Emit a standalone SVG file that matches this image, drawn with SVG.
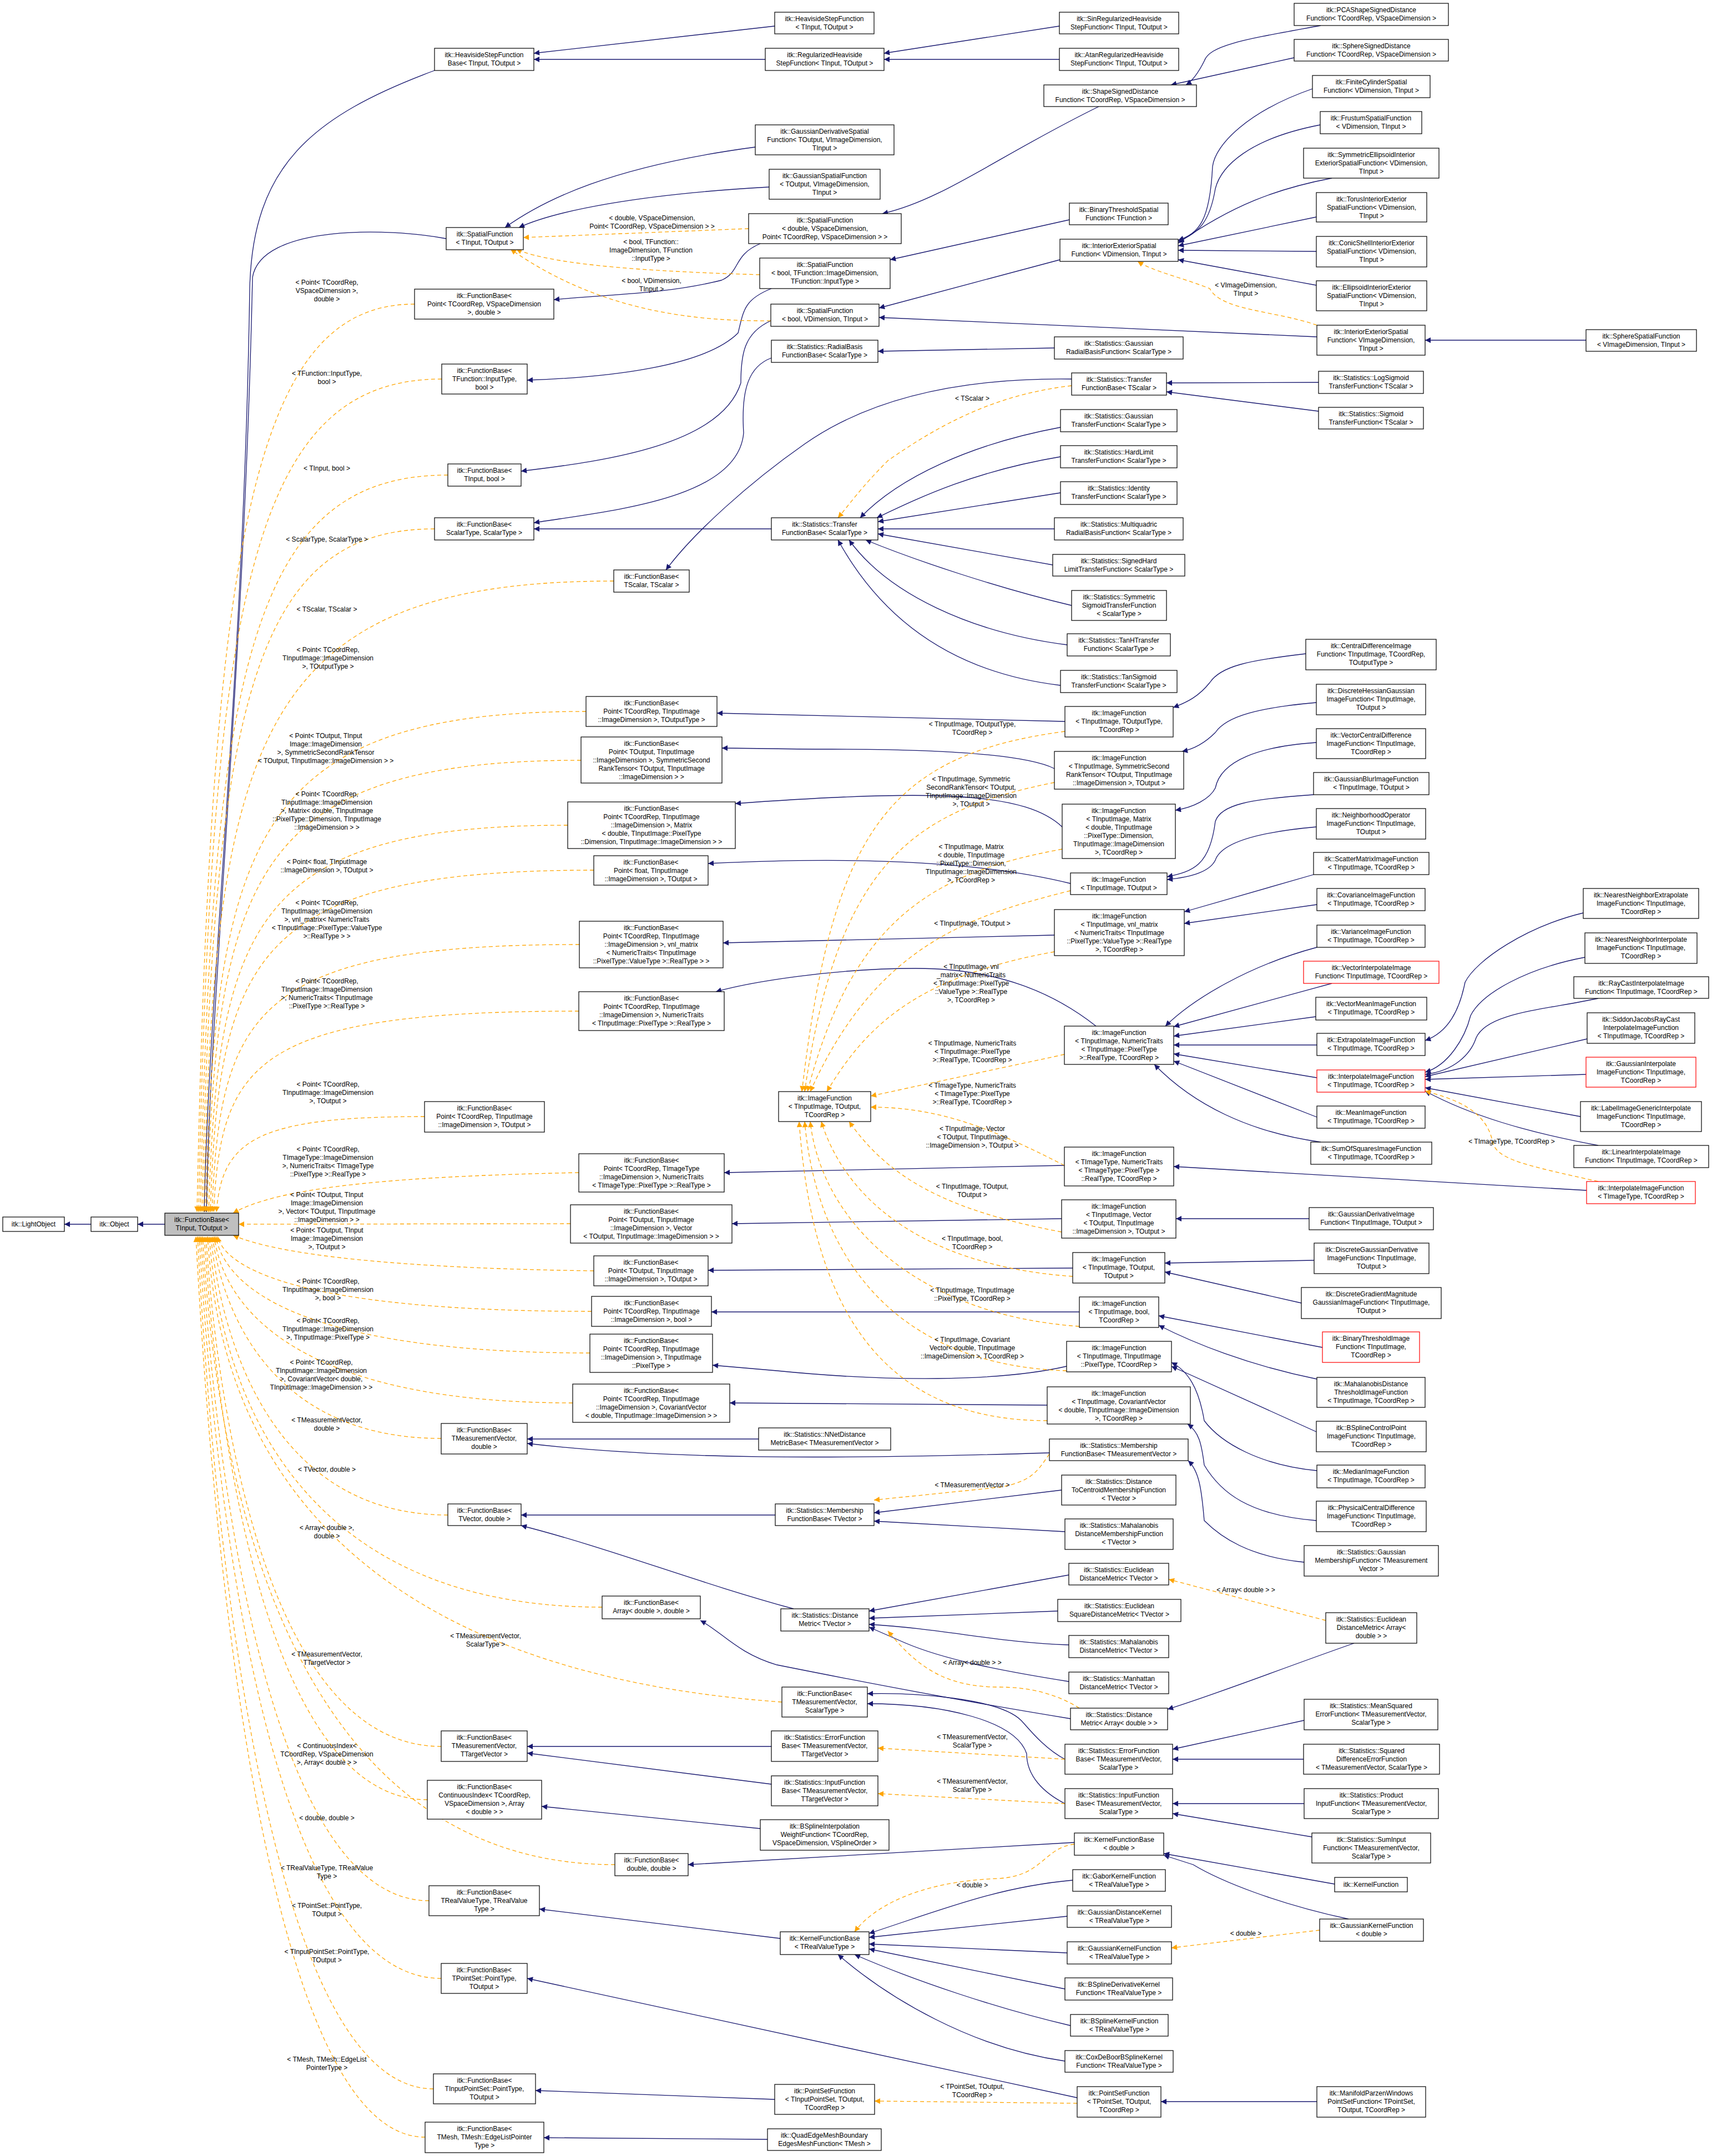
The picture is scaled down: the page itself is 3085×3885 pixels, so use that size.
<svg xmlns="http://www.w3.org/2000/svg" width="3085" height="3885" viewBox="0 0 3085 3885">
<style>
.n rect{fill:#fff;stroke:#000;stroke-width:1.2}
.r rect{stroke:#f00}
.g rect{fill:#bfbfbf}
text{font-family:"Liberation Sans",Arial,sans-serif;font-size:12px;fill:#000;text-anchor:middle}
.e{fill:none;stroke:#191970;stroke-width:1.3;marker-end:url(#ab)}
.d{fill:none;stroke:#ffa500;stroke-width:1.3;stroke-dasharray:7,5;marker-end:url(#ao)}
</style>
<defs>
<marker id="ab" viewBox="0 0 10 10" refX="10" refY="5" markerWidth="14" markerHeight="10" markerUnits="userSpaceOnUse" orient="auto"><path d="M0,0 L10,5 L0,10 z" fill="#191970"/></marker>
<marker id="ao" viewBox="0 0 10 10" refX="10" refY="5" markerWidth="14" markerHeight="10" markerUnits="userSpaceOnUse" orient="auto"><path d="M0,0 L10,5 L0,10 z" fill="#ffa500"/></marker>
</defs>
<rect width="3085" height="3885" fill="#fff"/>
<g id="connectors">
<path class="e" d="M164,2206 L116,2206"/>
<path class="e" d="M297,2206 L248,2206"/>
<path class="e" d="M783,127 C560,210 455,300 450,520 C440,1200 375,1800 368,2184"/>
<path class="e" d="M804,430 C700,410 470,405 455,500 C440,1200 378,1800 372,2184"/>
<path class="e" d="M1396,47 L962,96"/>
<path class="e" d="M1379,107 L962,107"/>
<path class="e" d="M1909,47 L1593,96"/>
<path class="e" d="M1909,107 L1593,107"/>
<path class="e" d="M2380,46 C2250,70 2180,80 2170,110 C2160,130 2150,145 2137,153"/>
<path class="e" d="M2332,104 L2110,153"/>
<path class="e" d="M1980,192 C1800,280 1700,360 1590,385"/>
<path class="e" d="M1361,265 C1100,300 980,360 910,410"/>
<path class="e" d="M1386,337 C1150,350 1000,380 935,410"/>
<path class="e" d="M1370,439 C1320,460 1335,490 1300,505 C1200,530 1100,530 998,540"/>
<path class="e" d="M1390,520 C1340,540 1340,560 1330,600 C1270,660 1100,680 950,685"/>
<path class="e" d="M1389,578 C1340,600 1335,640 1335,690 C1300,800 1100,830 939,849"/>
<path class="e" d="M1390,645 C1350,660 1335,700 1340,780 C1330,900 1100,920 962,942"/>
<path class="e" d="M1390,953 L962,953"/>
<path class="e" d="M1931,683 C1700,680 1550,730 1450,800 C1350,870 1250,960 1200,1027"/>
<path class="e" d="M1927,396 L1604,468"/>
<path class="e" d="M1910,468 L1584,555"/>
<path class="e" d="M2365,160 C2250,200 2190,260 2185,300 C2180,400 2160,420 2123,433"/>
<path class="e" d="M2379,225 C2250,250 2200,300 2190,340 C2180,400 2160,420 2123,435"/>
<path class="e" d="M2400,321 C2300,340 2220,370 2123,438"/>
<path class="e" d="M2372,391 L2123,443"/>
<path class="e" d="M2372,453 L2123,451"/>
<path class="e" d="M2372,514 L2123,468"/>
<path class="e" d="M2373,607 L1584,572"/>
<path class="e" d="M2858,613 L2568,613"/>
<path class="e" d="M1900,627 L1582,633"/>
<path class="e" d="M2376,689 L2102,690"/>
<path class="e" d="M2376,741 L2102,706"/>
<path class="e" d="M1911,770 C1750,800 1620,860 1550,933"/>
<path class="e" d="M1911,823 C1750,850 1650,900 1580,933"/>
<path class="e" d="M1911,888 L1582,940"/>
<path class="e" d="M1900,953 L1582,953"/>
<path class="e" d="M1897,1018 L1582,962"/>
<path class="e" d="M1931,1091 C1800,1060 1650,1010 1560,973"/>
<path class="e" d="M1923,1162 C1750,1140 1600,1070 1530,973"/>
<path class="e" d="M1911,1235 C1700,1210 1580,1100 1510,973"/>
<path class="e" d="M1919,1300 L1292,1285"/>
<path class="e" d="M2353,1178 C2250,1190 2200,1200 2180,1230 C2160,1255 2140,1265 2114,1275"/>
<path class="e" d="M2372,1266 C2270,1275 2210,1290 2190,1320 C2170,1340 2150,1350 2130,1354"/>
<path class="e" d="M1900,1385 C1850,1360 1700,1350 1500,1350 C1400,1350 1350,1348 1301,1348"/>
<path class="e" d="M2372,1338 C2270,1345 2200,1370 2190,1420 C2180,1440 2150,1455 2118,1460"/>
<path class="e" d="M1914,1490 C1850,1430 1700,1420 1325,1448"/>
<path class="e" d="M2367,1432 C2250,1440 2200,1450 2190,1480 C2180,1560 2150,1570 2103,1580"/>
<path class="e" d="M2372,1490 C2260,1500 2200,1520 2190,1550 C2180,1570 2150,1580 2103,1585"/>
<path class="e" d="M1929,1592 C1800,1560 1600,1540 1276,1556"/>
<path class="e" d="M2367,1576 L2134,1643"/>
<path class="e" d="M2373,1630 L2134,1664"/>
<path class="e" d="M1900,1685 L1303,1699"/>
<path class="e" d="M1975,1849 C1900,1790 1800,1745 1650,1745 C1500,1745 1350,1770 1290,1787"/>
<path class="e" d="M2373,1707 C2250,1740 2150,1800 2100,1849"/>
<path class="e" d="M2400,1772 L2115,1850"/>
<path class="e" d="M2371,1832 L2115,1867"/>
<path class="e" d="M2373,1883 L2115,1883"/>
<path class="e" d="M2373,1942 L2115,1899"/>
<path class="e" d="M2373,2013 L2115,1912"/>
<path class="e" d="M2380,2058 C2250,2040 2150,1990 2080,1918"/>
<path class="e" d="M2853,1645 C2750,1670 2660,1730 2640,1770 C2630,1820 2610,1860 2568,1875"/>
<path class="e" d="M2856,1725 C2750,1745 2670,1790 2650,1830 C2640,1870 2610,1920 2568,1932"/>
<path class="e" d="M2880,1799 C2780,1820 2680,1825 2660,1870 C2650,1900 2620,1930 2568,1936"/>
<path class="e" d="M2860,1872 L2568,1940"/>
<path class="e" d="M2858,1936 L2568,1945"/>
<path class="e" d="M2848,2012 L2568,1960"/>
<path class="e" d="M2880,2064 C2750,2040 2650,2010 2568,1966"/>
<path class="e" d="M2859,2145 L2115,2102"/>
<path class="e" d="M1918,2100 L1305,2113"/>
<path class="e" d="M2359,2196 L2119,2196"/>
<path class="e" d="M1913,2196 L1319,2205"/>
<path class="e" d="M2368,2271 L2099,2276"/>
<path class="e" d="M2345,2348 L2099,2292"/>
<path class="e" d="M1933,2285 L1276,2289"/>
<path class="e" d="M2383,2428 L2088,2371"/>
<path class="e" d="M2373,2485 C2250,2460 2150,2420 2088,2388"/>
<path class="e" d="M1945,2364 L1282,2364"/>
<path class="e" d="M2372,2580 L2111,2462"/>
<path class="e" d="M2373,2650 C2270,2640 2200,2600 2170,2560 C2160,2500 2140,2470 2111,2455"/>
<path class="e" d="M1922,2462 C1800,2490 1600,2490 1400,2470 L1284,2460"/>
<path class="e" d="M2372,2740 C2250,2730 2200,2690 2170,2640 C2165,2600 2160,2580 2140,2566"/>
<path class="e" d="M1887,2532 L1315,2528"/>
<path class="e" d="M1891,2618 C1500,2630 1200,2630 950,2601"/>
<path class="e" d="M1367,2593 L950,2593"/>
<path class="e" d="M2350,2815 C2250,2805 2200,2770 2170,2740 C2165,2680 2160,2650 2141,2632"/>
<path class="e" d="M1913,2685 L1575,2726"/>
<path class="e" d="M1919,2760 L1575,2741"/>
<path class="e" d="M1397,2730 L939,2730"/>
<path class="e" d="M1430,2899 C1250,2850 1100,2790 939,2749"/>
<path class="e" d="M1926,2838 L1566,2903"/>
<path class="e" d="M1906,2903 L1566,2916"/>
<path class="e" d="M1926,2964 C1800,2960 1700,2935 1566,2927"/>
<path class="e" d="M1926,3030 C1800,3010 1700,2990 1630,2960 L1566,2932"/>
<path class="e" d="M1929,3097 C1700,3060 1500,3020 1400,3000 C1330,2980 1300,2940 1262,2920"/>
<path class="e" d="M2440,2961 C2300,3010 2200,3050 2104,3080"/>
<path class="e" d="M1919,3170 C1880,3150 1850,3110 1840,3100 C1800,3060 1650,3050 1563,3052"/>
<path class="e" d="M1919,3250 C1880,3230 1850,3200 1850,3160 C1830,3100 1700,3070 1563,3070"/>
<path class="e" d="M2350,3100 L2113,3152"/>
<path class="e" d="M2349,3170 L2113,3170"/>
<path class="e" d="M2350,3250 L2113,3250"/>
<path class="e" d="M2364,3310 L2113,3268"/>
<path class="e" d="M1390,3147 L950,3147"/>
<path class="e" d="M1390,3215 L950,3159"/>
<path class="e" d="M1370,3295 L976,3255"/>
<path class="e" d="M1936,3320 L1240,3360"/>
<path class="e" d="M2405,3395 L2097,3340"/>
<path class="e" d="M2430,3458 C2300,3430 2200,3390 2150,3360 L2097,3343"/>
<path class="e" d="M1933,3388 C1800,3400 1700,3440 1566,3484"/>
<path class="e" d="M1923,3453 L1566,3491"/>
<path class="e" d="M1923,3519 L1566,3503"/>
<path class="e" d="M1919,3584 L1566,3512"/>
<path class="e" d="M1929,3650 C1800,3620 1650,3570 1540,3522"/>
<path class="e" d="M1919,3714 C1750,3690 1600,3600 1510,3522"/>
<path class="e" d="M1406,3493 L972,3440"/>
<path class="e" d="M1941,3780 L950,3565"/>
<path class="e" d="M2373,3787 L2092,3787"/>
<path class="e" d="M1396,3783 L965,3767"/>
<path class="e" d="M1383,3855 L980,3852"/>
<path class="d" d="M1349,412 L943,428"/>
<path class="d" d="M1369,495 C1200,490 1000,480 930,449"/>
<path class="d" d="M1389,578 C1200,580 1050,540 920,449"/>
<path class="d" d="M2373,586 C2300,560 2200,560 2180,520 C2130,500 2080,490 2050,471"/>
<path class="d" d="M1931,695 C1800,710 1700,760 1600,830 C1550,880 1530,910 1510,933"/>
<path class="d" d="M2880,2129 C2750,2100 2700,2090 2690,2060 C2680,2000 2620,1980 2568,1966"/>
<path class="d" d="M2389,2920 L2106,2846"/>
<path class="d" d="M2378,3478 L2111,3510"/>
<path class="d" d="M1891,2620 C1870,2650 1860,2670 1800,2680 L1575,2703"/>
<path class="d" d="M1945,3078 C1900,3050 1850,3040 1800,3040 C1700,3040 1650,3000 1600,2939"/>
<path class="d" d="M1919,3170 L1582,3150"/>
<path class="d" d="M1919,3250 L1582,3232"/>
<path class="d" d="M1936,3323 C1880,3330 1880,3380 1800,3385 C1650,3390 1570,3440 1540,3481"/>
<path class="d" d="M1941,3790 L1576,3786"/>
<path class="d" d="M1919,1318 C1600,1360 1500,1500 1445,1967"/>
<path class="d" d="M1900,1410 C1650,1460 1510,1550 1450,1967"/>
<path class="d" d="M1914,1530 C1700,1570 1540,1640 1455,1967"/>
<path class="d" d="M1929,1605 C1750,1650 1580,1700 1460,1967"/>
<path class="d" d="M1900,1715 C1650,1760 1560,1850 1490,1967"/>
<path class="d" d="M1918,1900 L1569,1975"/>
<path class="d" d="M1918,2100 C1800,2040 1700,1995 1569,1995"/>
<path class="d" d="M1913,2220 C1700,2180 1600,2120 1530,2021"/>
<path class="d" d="M1933,2300 C1650,2280 1520,2150 1480,2021"/>
<path class="d" d="M1945,2390 C1650,2370 1480,2200 1460,2021"/>
<path class="d" d="M1922,2470 C1600,2460 1470,2250 1450,2021"/>
<path class="d" d="M1887,2560 C1550,2560 1460,2300 1440,2021"/>
<path class="d" d="M747,548 C460,548 380,958 355,2184"/>
<path class="d" d="M796,683 C460,683 380,1059 358,2184"/>
<path class="d" d="M807,856 C460,856 382,1188 361,2184"/>
<path class="d" d="M783,953 C460,953 384,1261 364,2184"/>
<path class="d" d="M1106,1047 C460,1047 386,1332 367,2184"/>
<path class="d" d="M1056,1282 C460,1282 388,1508 370,2184"/>
<path class="d" d="M1047,1370 C460,1370 390,1574 373,2184"/>
<path class="d" d="M1023,1487 C460,1487 392,1662 376,2184"/>
<path class="d" d="M1070,1568 C460,1568 394,1722 379,2184"/>
<path class="d" d="M1044,1702 C460,1702 396,1823 382,2184"/>
<path class="d" d="M1043,1822 C460,1822 398,1913 385,2184"/>
<path class="d" d="M765,2012 C460,2012 400,2055 390,2184"/>
<path class="d" d="M1043,2113 C700,2120 500,2140 420,2186"/>
<path class="d" d="M1028,2205 L430,2206"/>
<path class="d" d="M1070,2290 C700,2285 500,2260 420,2226"/>
<path class="d" d="M1066,2363 C460,2363 400,2260 392,2228"/>
<path class="d" d="M1063,2438 C460,2438 398,2279 389,2228"/>
<path class="d" d="M1032,2528 C460,2528 396,2302 386,2228"/>
<path class="d" d="M795,2592 C460,2592 394,2318 383,2228"/>
<path class="d" d="M807,2730 C460,2730 392,2352 380,2228"/>
<path class="d" d="M1085,2896 C460,2896 390,2393 377,2228"/>
<path class="d" d="M1409,3067 C460,3000 388,2436 374,2228"/>
<path class="d" d="M795,3147 C460,3147 386,2458 371,2228"/>
<path class="d" d="M770,3243 C460,3243 384,2480 368,2228"/>
<path class="d" d="M1108,3360 C460,3360 382,2510 365,2228"/>
<path class="d" d="M773,3425 C460,3425 380,2526 362,2228"/>
<path class="d" d="M795,3565 C460,3565 378,2561 359,2228"/>
<path class="d" d="M781,3764 C460,3764 376,2611 356,2228"/>
<path class="d" d="M766,3851 C460,3851 374,2632 353,2228"/>
</g>
<g id="labels">
<text x="589" y="513">&lt; Point&lt; TCoordRep,<tspan x="589" dy="14.9">VSpaceDimension &gt;,</tspan><tspan x="589" dy="14.9">double &gt;</tspan></text>
<text x="589" y="677">&lt; TFunction::InputType,<tspan x="589" dy="14.9">bool &gt;</tspan></text>
<text x="589" y="848">&lt; TInput, bool &gt;</text>
<text x="589" y="976">&lt; ScalarType, ScalarType &gt;</text>
<text x="589" y="1102">&lt; TScalar, TScalar &gt;</text>
<text x="591" y="1175">&lt; Point&lt; TCoordRep,<tspan x="591" dy="14.9">TInputImage::ImageDimension</tspan><tspan x="591" dy="14.9">&gt;, TOutputType &gt;</tspan></text>
<text x="587" y="1330">&lt; Point&lt; TOutput, TInput<tspan x="587" dy="14.9">Image::ImageDimension</tspan><tspan x="587" dy="14.9">&gt;, SymmetricSecondRankTensor</tspan><tspan x="587" dy="14.9">&lt; TOutput, TInputImage::ImageDimension &gt; &gt;</tspan></text>
<text x="589" y="1435">&lt; Point&lt; TCoordRep,<tspan x="589" dy="14.9">TInputImage::ImageDimension</tspan><tspan x="589" dy="14.9">&gt;, Matrix&lt; double, TInputImage</tspan><tspan x="589" dy="14.9">::PixelType::Dimension, TInputImage</tspan><tspan x="589" dy="14.9">::ImageDimension &gt; &gt;</tspan></text>
<text x="589" y="1557">&lt; Point&lt; float, TInputImage<tspan x="589" dy="14.9">::ImageDimension &gt;, TOutput &gt;</tspan></text>
<text x="589" y="1631">&lt; Point&lt; TCoordRep,<tspan x="589" dy="14.9">TInputImage::ImageDimension</tspan><tspan x="589" dy="14.9">&gt;, vnl_matrix&lt; NumericTraits</tspan><tspan x="589" dy="14.9">&lt; TInputImage::PixelType::ValueType</tspan><tspan x="589" dy="14.9">&gt;::RealType &gt; &gt;</tspan></text>
<text x="589" y="1772">&lt; Point&lt; TCoordRep,<tspan x="589" dy="14.9">TInputImage::ImageDimension</tspan><tspan x="589" dy="14.9">&gt;, NumericTraits&lt; TInputImage</tspan><tspan x="589" dy="14.9">::PixelType &gt;::RealType &gt;</tspan></text>
<text x="591" y="1958">&lt; Point&lt; TCoordRep,<tspan x="591" dy="14.9">TInputImage::ImageDimension</tspan><tspan x="591" dy="14.9">&gt;, TOutput &gt;</tspan></text>
<text x="591" y="2075">&lt; Point&lt; TCoordRep,<tspan x="591" dy="14.9">TImageType::ImageDimension</tspan><tspan x="591" dy="14.9">&gt;, NumericTraits&lt; TImageType</tspan><tspan x="591" dy="14.9">::PixelType &gt;::RealType &gt;</tspan></text>
<text x="589" y="2157">&lt; Point&lt; TOutput, TInput<tspan x="589" dy="14.9">Image::ImageDimension</tspan><tspan x="589" dy="14.9">&gt;, Vector&lt; TOutput, TInputImage</tspan><tspan x="589" dy="14.9">::ImageDimension &gt; &gt;</tspan></text>
<text x="589" y="2221">&lt; Point&lt; TOutput, TInput<tspan x="589" dy="14.9">Image::ImageDimension</tspan><tspan x="589" dy="14.9">&gt;, TOutput &gt;</tspan></text>
<text x="591" y="2313">&lt; Point&lt; TCoordRep,<tspan x="591" dy="14.9">TInputImage::ImageDimension</tspan><tspan x="591" dy="14.9">&gt;, bool &gt;</tspan></text>
<text x="591" y="2384">&lt; Point&lt; TCoordRep,<tspan x="591" dy="14.9">TInputImage::ImageDimension</tspan><tspan x="591" dy="14.9">&gt;, TInputImage::PixelType &gt;</tspan></text>
<text x="579" y="2459">&lt; Point&lt; TCoordRep,<tspan x="579" dy="14.9">TInputImage::ImageDimension</tspan><tspan x="579" dy="14.9">&gt;, CovariantVector&lt; double,</tspan><tspan x="579" dy="14.9">TInputImage::ImageDimension &gt; &gt;</tspan></text>
<text x="589" y="2563">&lt; TMeasurementVector,<tspan x="589" dy="14.9">double &gt;</tspan></text>
<text x="589" y="2652">&lt; TVector, double &gt;</text>
<text x="589" y="2757">&lt; Array&lt; double &gt;,<tspan x="589" dy="14.9">double &gt;</tspan></text>
<text x="875" y="2952">&lt; TMeasurementVector,<tspan x="875" dy="14.9">ScalarType &gt;</tspan></text>
<text x="589" y="2985">&lt; TMeasurementVector,<tspan x="589" dy="14.9">TTargetVector &gt;</tspan></text>
<text x="589" y="3150">&lt; ContinuousIndex&lt;<tspan x="589" dy="14.9">TCoordRep, VSpaceDimension</tspan><tspan x="589" dy="14.9">&gt;, Array&lt; double &gt; &gt;</tspan></text>
<text x="589" y="3280">&lt; double, double &gt;</text>
<text x="589" y="3370">&lt; TRealValueType, TRealValue<tspan x="589" dy="14.9">Type &gt;</tspan></text>
<text x="589" y="3438">&lt; TPointSet::PointType,<tspan x="589" dy="14.9">TOutput &gt;</tspan></text>
<text x="589" y="3521">&lt; TInputPointSet::PointType,<tspan x="589" dy="14.9">TOutput &gt;</tspan></text>
<text x="589" y="3715">&lt; TMesh, TMesh::EdgeList<tspan x="589" dy="14.9">PointerType &gt;</tspan></text>
<text x="1175" y="397">&lt; double, VSpaceDimension,<tspan x="1175" dy="14.9">Point&lt; TCoordRep, VSpaceDimension &gt; &gt;</tspan></text>
<text x="1173" y="440">&lt; bool, TFunction::<tspan x="1173" dy="14.9">ImageDimension, TFunction</tspan><tspan x="1173" dy="14.9">::InputType &gt;</tspan></text>
<text x="1174" y="510">&lt; bool, VDimension,<tspan x="1174" dy="14.9">TInput &gt;</tspan></text>
<text x="2245" y="518">&lt; VImageDimension,<tspan x="2245" dy="14.9">TInput &gt;</tspan></text>
<text x="1752" y="722">&lt; TScalar &gt;</text>
<text x="1752" y="1309">&lt; TInputImage, TOutputType,<tspan x="1752" dy="14.9">TCoordRep &gt;</tspan></text>
<text x="1750" y="1408">&lt; TInputImage, Symmetric<tspan x="1750" dy="14.9">SecondRankTensor&lt; TOutput,</tspan><tspan x="1750" dy="14.9">TInputImage::ImageDimension</tspan><tspan x="1750" dy="14.9">&gt;, TOutput &gt;</tspan></text>
<text x="1750" y="1530">&lt; TInputImage, Matrix<tspan x="1750" dy="14.9">&lt; double, TInputImage</tspan><tspan x="1750" dy="14.9">::PixelType::Dimension,</tspan><tspan x="1750" dy="14.9">TInputImage::ImageDimension</tspan><tspan x="1750" dy="14.9">&gt;, TCoordRep &gt;</tspan></text>
<text x="1752" y="1668">&lt; TInputImage, TOutput &gt;</text>
<text x="1750" y="1746">&lt; TInputImage, vnl<tspan x="1750" dy="14.9">_matrix&lt; NumericTraits</tspan><tspan x="1750" dy="14.9">&lt; TInputImage::PixelType</tspan><tspan x="1750" dy="14.9">::ValueType &gt;::RealType</tspan><tspan x="1750" dy="14.9">&gt;, TCoordRep &gt;</tspan></text>
<text x="1752" y="1884">&lt; TInputImage, NumericTraits<tspan x="1752" dy="14.9">&lt; TInputImage::PixelType</tspan><tspan x="1752" dy="14.9">&gt;::RealType, TCoordRep &gt;</tspan></text>
<text x="1752" y="1960">&lt; TImageType, NumericTraits<tspan x="1752" dy="14.9">&lt; TImageType::PixelType</tspan><tspan x="1752" dy="14.9">&gt;::RealType, TCoordRep &gt;</tspan></text>
<text x="1752" y="2038">&lt; TInputImage, Vector<tspan x="1752" dy="14.9">&lt; TOutput, TInputImage</tspan><tspan x="1752" dy="14.9">::ImageDimension &gt;, TOutput &gt;</tspan></text>
<text x="1752" y="2142">&lt; TInputImage, TOutput,<tspan x="1752" dy="14.9">TOutput &gt;</tspan></text>
<text x="1752" y="2236">&lt; TInputImage, bool,<tspan x="1752" dy="14.9">TCoordRep &gt;</tspan></text>
<text x="1752" y="2329">&lt; TInputImage, TInputImage<tspan x="1752" dy="14.9">::PixelType, TCoordRep &gt;</tspan></text>
<text x="1752" y="2418">&lt; TInputImage, Covariant<tspan x="1752" dy="14.9">Vector&lt; double, TInputImage</tspan><tspan x="1752" dy="14.9">::ImageDimension &gt;, TCoordRep &gt;</tspan></text>
<text x="2724" y="2061">&lt; TImageType, TCoordRep &gt;</text>
<text x="1752" y="2680">&lt; TMeasurementVector &gt;</text>
<text x="2245" y="2869">&lt; Array&lt; double &gt; &gt;</text>
<text x="1752" y="3000">&lt; Array&lt; double &gt; &gt;</text>
<text x="1752" y="3134">&lt; TMeasurementVector,<tspan x="1752" dy="14.9">ScalarType &gt;</tspan></text>
<text x="1752" y="3214">&lt; TMeasurementVector,<tspan x="1752" dy="14.9">ScalarType &gt;</tspan></text>
<text x="1752" y="3401">&lt; double &gt;</text>
<text x="2245" y="3488">&lt; double &gt;</text>
<text x="1752" y="3764">&lt; TPointSet, TOutput,<tspan x="1752" dy="14.9">TCoordRep &gt;</tspan></text>
</g>
<g id="lo" class="n"><rect x="5" y="2193" width="111" height="26"/><text x="60.5" y="2210">itk::LightObject</text></g>
<g id="ob" class="n"><rect x="164" y="2193" width="84" height="26"/><text x="206" y="2210">itk::Object</text></g>
<g id="root" class="n g"><rect x="297" y="2186" width="133" height="40"/><text x="363.5" y="2202">itk::FunctionBase&lt;<tspan x="363.5" dy="14.9">TInput, TOutput &gt;</tspan></text></g>
<g id="hsfb" class="n"><rect x="783" y="87" width="179" height="40"/><text x="872.5" y="103">itk::HeavisideStepFunction<tspan x="872.5" dy="14.9">Base&lt; TInput, TOutput &gt;</tspan></text></g>
<g id="sf" class="n"><rect x="804" y="410" width="139" height="40"/><text x="873.5" y="426">itk::SpatialFunction<tspan x="873.5" dy="14.9">&lt; TInput, TOutput &gt;</tspan></text></g>
<g id="fb_vsp" class="n"><rect x="747" y="521" width="251" height="54"/><text x="872.5" y="537">itk::FunctionBase&lt;<tspan x="872.5" dy="14.9">Point&lt; TCoordRep, VSpaceDimension</tspan><tspan x="872.5" dy="14.9">&gt;, double &gt;</tspan></text></g>
<g id="fb_tfin" class="n"><rect x="796" y="656" width="154" height="54"/><text x="873" y="672">itk::FunctionBase&lt;<tspan x="873" dy="14.9">TFunction::InputType,</tspan><tspan x="873" dy="14.9">bool &gt;</tspan></text></g>
<g id="fb_tinb" class="n"><rect x="807" y="836" width="132" height="40"/><text x="873" y="852">itk::FunctionBase&lt;<tspan x="873" dy="14.9">TInput, bool &gt;</tspan></text></g>
<g id="fb_sc" class="n"><rect x="783" y="933" width="179" height="40"/><text x="872.5" y="949">itk::FunctionBase&lt;<tspan x="872.5" dy="14.9">ScalarType, ScalarType &gt;</tspan></text></g>
<g id="fb_ts" class="n"><rect x="1106" y="1027" width="136" height="40"/><text x="1174" y="1043">itk::FunctionBase&lt;<tspan x="1174" dy="14.9">TScalar, TScalar &gt;</tspan></text></g>
<g id="fb_oty" class="n"><rect x="1056" y="1255" width="236" height="54"/><text x="1174" y="1271">itk::FunctionBase&lt;<tspan x="1174" dy="14.9">Point&lt; TCoordRep, TInputImage</tspan><tspan x="1174" dy="14.9">::ImageDimension &gt;, TOutputType &gt;</tspan></text></g>
<g id="fb_sym" class="n"><rect x="1047" y="1328" width="254" height="83"/><text x="1174" y="1344">itk::FunctionBase&lt;<tspan x="1174" dy="14.9">Point&lt; TOutput, TInputImage</tspan><tspan x="1174" dy="14.9">::ImageDimension &gt;, SymmetricSecond</tspan><tspan x="1174" dy="14.9">RankTensor&lt; TOutput, TInputImage</tspan><tspan x="1174" dy="14.9">::ImageDimension &gt; &gt;</tspan></text></g>
<g id="fb_mat" class="n"><rect x="1023" y="1445" width="302" height="84"/><text x="1174" y="1461">itk::FunctionBase&lt;<tspan x="1174" dy="14.9">Point&lt; TCoordRep, TInputImage</tspan><tspan x="1174" dy="14.9">::ImageDimension &gt;, Matrix</tspan><tspan x="1174" dy="14.9">&lt; double, TInputImage::PixelType</tspan><tspan x="1174" dy="14.9">::Dimension, TInputImage::ImageDimension &gt; &gt;</tspan></text></g>
<g id="fb_flt" class="n"><rect x="1070" y="1542" width="206" height="53"/><text x="1173" y="1558">itk::FunctionBase&lt;<tspan x="1173" dy="14.9">Point&lt; float, TInputImage</tspan><tspan x="1173" dy="14.9">::ImageDimension &gt;, TOutput &gt;</tspan></text></g>
<g id="fb_vnl" class="n"><rect x="1044" y="1660" width="259" height="84"/><text x="1173.5" y="1676">itk::FunctionBase&lt;<tspan x="1173.5" dy="14.9">Point&lt; TCoordRep, TInputImage</tspan><tspan x="1173.5" dy="14.9">::ImageDimension &gt;, vnl_matrix</tspan><tspan x="1173.5" dy="14.9">&lt; NumericTraits&lt; TInputImage</tspan><tspan x="1173.5" dy="14.9">::PixelType::ValueType &gt;::RealType &gt; &gt;</tspan></text></g>
<g id="fb_nt" class="n"><rect x="1043" y="1787" width="262" height="70"/><text x="1174" y="1803">itk::FunctionBase&lt;<tspan x="1174" dy="14.9">Point&lt; TCoordRep, TInputImage</tspan><tspan x="1174" dy="14.9">::ImageDimension &gt;, NumericTraits</tspan><tspan x="1174" dy="14.9">&lt; TInputImage::PixelType &gt;::RealType &gt;</tspan></text></g>
<g id="fb_out" class="n"><rect x="765" y="1985" width="216" height="55"/><text x="873" y="2001">itk::FunctionBase&lt;<tspan x="873" dy="14.9">Point&lt; TCoordRep, TInputImage</tspan><tspan x="873" dy="14.9">::ImageDimension &gt;, TOutput &gt;</tspan></text></g>
<g id="fb_itt" class="n"><rect x="1043" y="2079" width="262" height="69"/><text x="1174" y="2095">itk::FunctionBase&lt;<tspan x="1174" dy="14.9">Point&lt; TCoordRep, TImageType</tspan><tspan x="1174" dy="14.9">::ImageDimension &gt;, NumericTraits</tspan><tspan x="1174" dy="14.9">&lt; TImageType::PixelType &gt;::RealType &gt;</tspan></text></g>
<g id="fb_vec" class="n"><rect x="1028" y="2171" width="291" height="69"/><text x="1173.5" y="2187">itk::FunctionBase&lt;<tspan x="1173.5" dy="14.9">Point&lt; TOutput, TInputImage</tspan><tspan x="1173.5" dy="14.9">::ImageDimension &gt;, Vector</tspan><tspan x="1173.5" dy="14.9">&lt; TOutput, TInputImage::ImageDimension &gt; &gt;</tspan></text></g>
<g id="fb_oo" class="n"><rect x="1070" y="2263" width="206" height="54"/><text x="1173" y="2279">itk::FunctionBase&lt;<tspan x="1173" dy="14.9">Point&lt; TOutput, TInputImage</tspan><tspan x="1173" dy="14.9">::ImageDimension &gt;, TOutput &gt;</tspan></text></g>
<g id="fb_bool" class="n"><rect x="1066" y="2336" width="216" height="54"/><text x="1174" y="2352">itk::FunctionBase&lt;<tspan x="1174" dy="14.9">Point&lt; TCoordRep, TInputImage</tspan><tspan x="1174" dy="14.9">::ImageDimension &gt;, bool &gt;</tspan></text></g>
<g id="fb_pix" class="n"><rect x="1063" y="2404" width="221" height="69"/><text x="1173.5" y="2420">itk::FunctionBase&lt;<tspan x="1173.5" dy="14.9">Point&lt; TCoordRep, TInputImage</tspan><tspan x="1173.5" dy="14.9">::ImageDimension &gt;, TInputImage</tspan><tspan x="1173.5" dy="14.9">::PixelType &gt;</tspan></text></g>
<g id="fb_cov" class="n"><rect x="1032" y="2494" width="283" height="69"/><text x="1173.5" y="2510">itk::FunctionBase&lt;<tspan x="1173.5" dy="14.9">Point&lt; TCoordRep, TInputImage</tspan><tspan x="1173.5" dy="14.9">::ImageDimension &gt;, CovariantVector</tspan><tspan x="1173.5" dy="14.9">&lt; double, TInputImage::ImageDimension &gt; &gt;</tspan></text></g>
<g id="fb_tmvd" class="n"><rect x="795" y="2565" width="155" height="55"/><text x="872.5" y="2581">itk::FunctionBase&lt;<tspan x="872.5" dy="14.9">TMeasurementVector,</tspan><tspan x="872.5" dy="14.9">double &gt;</tspan></text></g>
<g id="fb_tvd" class="n"><rect x="807" y="2710" width="132" height="39"/><text x="873" y="2726">itk::FunctionBase&lt;<tspan x="873" dy="14.9">TVector, double &gt;</tspan></text></g>
<g id="fb_arr" class="n"><rect x="1085" y="2876" width="177" height="41"/><text x="1173.5" y="2892">itk::FunctionBase&lt;<tspan x="1173.5" dy="14.9">Array&lt; double &gt;, double &gt;</tspan></text></g>
<g id="fb_tmvs" class="n"><rect x="1409" y="3040" width="154" height="54"/><text x="1486" y="3056">itk::FunctionBase&lt;<tspan x="1486" dy="14.9">TMeasurementVector,</tspan><tspan x="1486" dy="14.9">ScalarType &gt;</tspan></text></g>
<g id="fb_tmvt" class="n"><rect x="795" y="3119" width="155" height="55"/><text x="872.5" y="3135">itk::FunctionBase&lt;<tspan x="872.5" dy="14.9">TMeasurementVector,</tspan><tspan x="872.5" dy="14.9">TTargetVector &gt;</tspan></text></g>
<g id="fb_ci" class="n"><rect x="770" y="3208" width="206" height="70"/><text x="873" y="3224">itk::FunctionBase&lt;<tspan x="873" dy="14.9">ContinuousIndex&lt; TCoordRep,</tspan><tspan x="873" dy="14.9">VSpaceDimension &gt;, Array</tspan><tspan x="873" dy="14.9">&lt; double &gt; &gt;</tspan></text></g>
<g id="fb_dd" class="n"><rect x="1108" y="3340" width="132" height="40"/><text x="1174" y="3356">itk::FunctionBase&lt;<tspan x="1174" dy="14.9">double, double &gt;</tspan></text></g>
<g id="fb_rvt" class="n"><rect x="773" y="3398" width="199" height="54"/><text x="872.5" y="3414">itk::FunctionBase&lt;<tspan x="872.5" dy="14.9">TRealValueType, TRealValue</tspan><tspan x="872.5" dy="14.9">Type &gt;</tspan></text></g>
<g id="fb_ps" class="n"><rect x="795" y="3538" width="155" height="54"/><text x="872.5" y="3554">itk::FunctionBase&lt;<tspan x="872.5" dy="14.9">TPointSet::PointType,</tspan><tspan x="872.5" dy="14.9">TOutput &gt;</tspan></text></g>
<g id="fb_ips" class="n"><rect x="781" y="3737" width="184" height="54"/><text x="873" y="3753">itk::FunctionBase&lt;<tspan x="873" dy="14.9">TInputPointSet::PointType,</tspan><tspan x="873" dy="14.9">TOutput &gt;</tspan></text></g>
<g id="fb_mesh" class="n"><rect x="766" y="3824" width="214" height="55"/><text x="873" y="3840">itk::FunctionBase&lt;<tspan x="873" dy="14.9">TMesh, TMesh::EdgeListPointer</tspan><tspan x="873" dy="14.9">Type &gt;</tspan></text></g>
<g id="hsf" class="n"><rect x="1396" y="22" width="179" height="39"/><text x="1485.5" y="38">itk::HeavisideStepFunction<tspan x="1485.5" dy="14.9">&lt; TInput, TOutput &gt;</tspan></text></g>
<g id="rhsf" class="n"><rect x="1379" y="87" width="214" height="40"/><text x="1486" y="103">itk::RegularizedHeaviside<tspan x="1486" dy="14.9">StepFunction&lt; TInput, TOutput &gt;</tspan></text></g>
<g id="gds" class="n"><rect x="1361" y="225" width="250" height="54"/><text x="1486" y="241">itk::GaussianDerivativeSpatial<tspan x="1486" dy="14.9">Function&lt; TOutput, VImageDimension,</tspan><tspan x="1486" dy="14.9">TInput &gt;</tspan></text></g>
<g id="gsf" class="n"><rect x="1386" y="305" width="200" height="54"/><text x="1486" y="321">itk::GaussianSpatialFunction<tspan x="1486" dy="14.9">&lt; TOutput, VImageDimension,</tspan><tspan x="1486" dy="14.9">TInput &gt;</tspan></text></g>
<g id="sfd" class="n"><rect x="1349" y="385" width="275" height="54"/><text x="1486.5" y="401">itk::SpatialFunction<tspan x="1486.5" dy="14.9">&lt; double, VSpaceDimension,</tspan><tspan x="1486.5" dy="14.9">Point&lt; TCoordRep, VSpaceDimension &gt; &gt;</tspan></text></g>
<g id="sfb" class="n"><rect x="1369" y="465" width="235" height="55"/><text x="1486.5" y="481">itk::SpatialFunction<tspan x="1486.5" dy="14.9">&lt; bool, TFunction::ImageDimension,</tspan><tspan x="1486.5" dy="14.9">TFunction::InputType &gt;</tspan></text></g>
<g id="sfv" class="n"><rect x="1389" y="548" width="195" height="40"/><text x="1486.5" y="564">itk::SpatialFunction<tspan x="1486.5" dy="14.9">&lt; bool, VDimension, TInput &gt;</tspan></text></g>
<g id="rbf" class="n"><rect x="1390" y="613" width="192" height="40"/><text x="1486" y="629">itk::Statistics::RadialBasis<tspan x="1486" dy="14.9">FunctionBase&lt; ScalarType &gt;</tspan></text></g>
<g id="tfb" class="n"><rect x="1390" y="933" width="192" height="40"/><text x="1486" y="949">itk::Statistics::Transfer<tspan x="1486" dy="14.9">FunctionBase&lt; ScalarType &gt;</tspan></text></g>
<g id="ifb" class="n"><rect x="1403" y="1967" width="166" height="54"/><text x="1486" y="1983">itk::ImageFunction<tspan x="1486" dy="14.9">&lt; TInputImage, TOutput,</tspan><tspan x="1486" dy="14.9">TCoordRep &gt;</tspan></text></g>
<g id="nnet" class="n"><rect x="1367" y="2573" width="238" height="40"/><text x="1486" y="2589">itk::Statistics::NNetDistance<tspan x="1486" dy="14.9">MetricBase&lt; TMeasurementVector &gt;</tspan></text></g>
<g id="mfbv" class="n"><rect x="1397" y="2710" width="178" height="39"/><text x="1486" y="2726">itk::Statistics::Membership<tspan x="1486" dy="14.9">FunctionBase&lt; TVector &gt;</tspan></text></g>
<g id="dmv" class="n"><rect x="1407" y="2899" width="159" height="40"/><text x="1486.5" y="2915">itk::Statistics::Distance<tspan x="1486.5" dy="14.9">Metric&lt; TVector &gt;</tspan></text></g>
<g id="efbt" class="n"><rect x="1390" y="3119" width="192" height="55"/><text x="1486" y="3135">itk::Statistics::ErrorFunction<tspan x="1486" dy="14.9">Base&lt; TMeasurementVector,</tspan><tspan x="1486" dy="14.9">TTargetVector &gt;</tspan></text></g>
<g id="ifbt" class="n"><rect x="1390" y="3200" width="192" height="54"/><text x="1486" y="3216">itk::Statistics::InputFunction<tspan x="1486" dy="14.9">Base&lt; TMeasurementVector,</tspan><tspan x="1486" dy="14.9">TTargetVector &gt;</tspan></text></g>
<g id="bsw" class="n"><rect x="1370" y="3279" width="232" height="55"/><text x="1486" y="3295">itk::BSplineInterpolation<tspan x="1486" dy="14.9">WeightFunction&lt; TCoordRep,</tspan><tspan x="1486" dy="14.9">VSpaceDimension, VSplineOrder &gt;</tspan></text></g>
<g id="kfb" class="n"><rect x="1406" y="3481" width="160" height="41"/><text x="1486" y="3497">itk::KernelFunctionBase<tspan x="1486" dy="14.9">&lt; TRealValueType &gt;</tspan></text></g>
<g id="psf" class="n"><rect x="1396" y="3756" width="180" height="54"/><text x="1486" y="3772">itk::PointSetFunction<tspan x="1486" dy="14.9">&lt; TInputPointSet, TOutput,</tspan><tspan x="1486" dy="14.9">TCoordRep &gt;</tspan></text></g>
<g id="qem" class="n"><rect x="1383" y="3836" width="205" height="39"/><text x="1485.5" y="3852">itk::QuadEdgeMeshBoundary<tspan x="1485.5" dy="14.9">EdgesMeshFunction&lt; TMesh &gt;</tspan></text></g>
<g id="srh" class="n"><rect x="1909" y="22" width="215" height="39"/><text x="2016.5" y="38">itk::SinRegularizedHeaviside<tspan x="2016.5" dy="14.9">StepFunction&lt; TInput, TOutput &gt;</tspan></text></g>
<g id="arh" class="n"><rect x="1909" y="87" width="215" height="40"/><text x="2016.5" y="103">itk::AtanRegularizedHeaviside<tspan x="2016.5" dy="14.9">StepFunction&lt; TInput, TOutput &gt;</tspan></text></g>
<g id="ssd" class="n"><rect x="1881" y="153" width="275" height="39"/><text x="2018.5" y="169">itk::ShapeSignedDistance<tspan x="2018.5" dy="14.9">Function&lt; TCoordRep, VSpaceDimension &gt;</tspan></text></g>
<g id="bts" class="n"><rect x="1927" y="366" width="178" height="39"/><text x="2016" y="382">itk::BinaryThresholdSpatial<tspan x="2016" dy="14.9">Function&lt; TFunction &gt;</tspan></text></g>
<g id="ies" class="n"><rect x="1910" y="431" width="213" height="40"/><text x="2016.5" y="447">itk::InteriorExteriorSpatial<tspan x="2016.5" dy="14.9">Function&lt; VDimension, TInput &gt;</tspan></text></g>
<g id="grb" class="n"><rect x="1900" y="607" width="232" height="40"/><text x="2016" y="623">itk::Statistics::Gaussian<tspan x="2016" dy="14.9">RadialBasisFunction&lt; ScalarType &gt;</tspan></text></g>
<g id="tfbs" class="n"><rect x="1931" y="672" width="171" height="40"/><text x="2016.5" y="688">itk::Statistics::Transfer<tspan x="2016.5" dy="14.9">FunctionBase&lt; TScalar &gt;</tspan></text></g>
<g id="gtf" class="n"><rect x="1911" y="738" width="210" height="40"/><text x="2016" y="754">itk::Statistics::Gaussian<tspan x="2016" dy="14.9">TransferFunction&lt; ScalarType &gt;</tspan></text></g>
<g id="hl" class="n"><rect x="1911" y="803" width="210" height="40"/><text x="2016" y="819">itk::Statistics::HardLimit<tspan x="2016" dy="14.9">TransferFunction&lt; ScalarType &gt;</tspan></text></g>
<g id="idt" class="n"><rect x="1911" y="868" width="210" height="41"/><text x="2016" y="884">itk::Statistics::Identity<tspan x="2016" dy="14.9">TransferFunction&lt; ScalarType &gt;</tspan></text></g>
<g id="mq" class="n"><rect x="1900" y="933" width="232" height="40"/><text x="2016" y="949">itk::Statistics::Multiquadric<tspan x="2016" dy="14.9">RadialBasisFunction&lt; ScalarType &gt;</tspan></text></g>
<g id="sh" class="n"><rect x="1897" y="999" width="238" height="39"/><text x="2016" y="1015">itk::Statistics::SignedHard<tspan x="2016" dy="14.9">LimitTransferFunction&lt; ScalarType &gt;</tspan></text></g>
<g id="ss" class="n"><rect x="1931" y="1064" width="171" height="54"/><text x="2016.5" y="1080">itk::Statistics::Symmetric<tspan x="2016.5" dy="14.9">SigmoidTransferFunction</tspan><tspan x="2016.5" dy="14.9">&lt; ScalarType &gt;</tspan></text></g>
<g id="tanh" class="n"><rect x="1923" y="1142" width="186" height="40"/><text x="2016" y="1158">itk::Statistics::TanHTransfer<tspan x="2016" dy="14.9">Function&lt; ScalarType &gt;</tspan></text></g>
<g id="tsig" class="n"><rect x="1911" y="1208" width="210" height="40"/><text x="2016" y="1224">itk::Statistics::TanSigmoid<tspan x="2016" dy="14.9">TransferFunction&lt; ScalarType &gt;</tspan></text></g>
<g id="if_oty" class="n"><rect x="1919" y="1273" width="195" height="55"/><text x="2016.5" y="1289">itk::ImageFunction<tspan x="2016.5" dy="14.9">&lt; TInputImage, TOutputType,</tspan><tspan x="2016.5" dy="14.9">TCoordRep &gt;</tspan></text></g>
<g id="if_sym" class="n"><rect x="1900" y="1354" width="233" height="68"/><text x="2016.5" y="1370">itk::ImageFunction<tspan x="2016.5" dy="14.9">&lt; TInputImage, SymmetricSecond</tspan><tspan x="2016.5" dy="14.9">RankTensor&lt; TOutput, TInputImage</tspan><tspan x="2016.5" dy="14.9">::ImageDimension &gt;, TOutput &gt;</tspan></text></g>
<g id="if_mat" class="n"><rect x="1914" y="1449" width="204" height="98"/><text x="2016" y="1465">itk::ImageFunction<tspan x="2016" dy="14.9">&lt; TInputImage, Matrix</tspan><tspan x="2016" dy="14.9">&lt; double, TInputImage</tspan><tspan x="2016" dy="14.9">::PixelType::Dimension,</tspan><tspan x="2016" dy="14.9">TInputImage::ImageDimension</tspan><tspan x="2016" dy="14.9">&gt;, TCoordRep &gt;</tspan></text></g>
<g id="if_to" class="n"><rect x="1929" y="1573" width="174" height="39"/><text x="2016" y="1589">itk::ImageFunction<tspan x="2016" dy="14.9">&lt; TInputImage, TOutput &gt;</tspan></text></g>
<g id="if_vnl" class="n"><rect x="1900" y="1639" width="234" height="83"/><text x="2017" y="1655">itk::ImageFunction<tspan x="2017" dy="14.9">&lt; TInputImage, vnl_matrix</tspan><tspan x="2017" dy="14.9">&lt; NumericTraits&lt; TInputImage</tspan><tspan x="2017" dy="14.9">::PixelType::ValueType &gt;::RealType</tspan><tspan x="2017" dy="14.9">&gt;, TCoordRep &gt;</tspan></text></g>
<g id="if_nt" class="n"><rect x="1918" y="1849" width="197" height="69"/><text x="2016.5" y="1865">itk::ImageFunction<tspan x="2016.5" dy="14.9">&lt; TInputImage, NumericTraits</tspan><tspan x="2016.5" dy="14.9">&lt; TInputImage::PixelType</tspan><tspan x="2016.5" dy="14.9">&gt;::RealType, TCoordRep &gt;</tspan></text></g>
<g id="if_itt" class="n"><rect x="1918" y="2067" width="197" height="70"/><text x="2016.5" y="2083">itk::ImageFunction<tspan x="2016.5" dy="14.9">&lt; TImageType, NumericTraits</tspan><tspan x="2016.5" dy="14.9">&lt; TImageType::PixelType &gt;</tspan><tspan x="2016.5" dy="14.9">::RealType, TCoordRep &gt;</tspan></text></g>
<g id="if_vec" class="n"><rect x="1913" y="2162" width="206" height="69"/><text x="2016" y="2178">itk::ImageFunction<tspan x="2016" dy="14.9">&lt; TInputImage, Vector</tspan><tspan x="2016" dy="14.9">&lt; TOutput, TInputImage</tspan><tspan x="2016" dy="14.9">::ImageDimension &gt;, TOutput &gt;</tspan></text></g>
<g id="if_oo" class="n"><rect x="1933" y="2257" width="166" height="55"/><text x="2016" y="2273">itk::ImageFunction<tspan x="2016" dy="14.9">&lt; TInputImage, TOutput,</tspan><tspan x="2016" dy="14.9">TOutput &gt;</tspan></text></g>
<g id="if_bool" class="n"><rect x="1945" y="2337" width="143" height="55"/><text x="2016.5" y="2353">itk::ImageFunction<tspan x="2016.5" dy="14.9">&lt; TInputImage, bool,</tspan><tspan x="2016.5" dy="14.9">TCoordRep &gt;</tspan></text></g>
<g id="if_pix" class="n"><rect x="1922" y="2417" width="189" height="55"/><text x="2016.5" y="2433">itk::ImageFunction<tspan x="2016.5" dy="14.9">&lt; TInputImage, TInputImage</tspan><tspan x="2016.5" dy="14.9">::PixelType, TCoordRep &gt;</tspan></text></g>
<g id="if_cov" class="n"><rect x="1887" y="2499" width="258" height="67"/><text x="2016" y="2515">itk::ImageFunction<tspan x="2016" dy="14.9">&lt; TInputImage, CovariantVector</tspan><tspan x="2016" dy="14.9">&lt; double, TInputImage::ImageDimension</tspan><tspan x="2016" dy="14.9">&gt;, TCoordRep &gt;</tspan></text></g>
<g id="mfbm" class="n"><rect x="1891" y="2593" width="250" height="39"/><text x="2016" y="2609">itk::Statistics::Membership<tspan x="2016" dy="14.9">FunctionBase&lt; TMeasurementVector &gt;</tspan></text></g>
<g id="dtc" class="n"><rect x="1913" y="2658" width="206" height="54"/><text x="2016" y="2674">itk::Statistics::Distance<tspan x="2016" dy="14.9">ToCentroidMembershipFunction</tspan><tspan x="2016" dy="14.9">&lt; TVector &gt;</tspan></text></g>
<g id="mdm" class="n"><rect x="1919" y="2737" width="195" height="55"/><text x="2016.5" y="2753">itk::Statistics::Mahalanobis<tspan x="2016.5" dy="14.9">DistanceMembershipFunction</tspan><tspan x="2016.5" dy="14.9">&lt; TVector &gt;</tspan></text></g>
<g id="edm" class="n"><rect x="1926" y="2817" width="180" height="39"/><text x="2016" y="2833">itk::Statistics::Euclidean<tspan x="2016" dy="14.9">DistanceMetric&lt; TVector &gt;</tspan></text></g>
<g id="esdm" class="n"><rect x="1906" y="2882" width="222" height="40"/><text x="2017" y="2898">itk::Statistics::Euclidean<tspan x="2017" dy="14.9">SquareDistanceMetric&lt; TVector &gt;</tspan></text></g>
<g id="mhdm" class="n"><rect x="1926" y="2947" width="180" height="40"/><text x="2016" y="2963">itk::Statistics::Mahalanobis<tspan x="2016" dy="14.9">DistanceMetric&lt; TVector &gt;</tspan></text></g>
<g id="mndm" class="n"><rect x="1926" y="3013" width="180" height="39"/><text x="2016" y="3029">itk::Statistics::Manhattan<tspan x="2016" dy="14.9">DistanceMetric&lt; TVector &gt;</tspan></text></g>
<g id="dma" class="n"><rect x="1929" y="3078" width="175" height="39"/><text x="2016.5" y="3094">itk::Statistics::Distance<tspan x="2016.5" dy="14.9">Metric&lt; Array&lt; double &gt; &gt;</tspan></text></g>
<g id="efbs" class="n"><rect x="1919" y="3143" width="194" height="54"/><text x="2016" y="3159">itk::Statistics::ErrorFunction<tspan x="2016" dy="14.9">Base&lt; TMeasurementVector,</tspan><tspan x="2016" dy="14.9">ScalarType &gt;</tspan></text></g>
<g id="ifbs" class="n"><rect x="1919" y="3223" width="194" height="54"/><text x="2016" y="3239">itk::Statistics::InputFunction<tspan x="2016" dy="14.9">Base&lt; TMeasurementVector,</tspan><tspan x="2016" dy="14.9">ScalarType &gt;</tspan></text></g>
<g id="kfbd" class="n"><rect x="1936" y="3303" width="161" height="40"/><text x="2016.5" y="3319">itk::KernelFunctionBase<tspan x="2016.5" dy="14.9">&lt; double &gt;</tspan></text></g>
<g id="gab" class="n"><rect x="1933" y="3369" width="167" height="39"/><text x="2016.5" y="3385">itk::GaborKernelFunction<tspan x="2016.5" dy="14.9">&lt; TRealValueType &gt;</tspan></text></g>
<g id="gdk" class="n"><rect x="1923" y="3434" width="188" height="39"/><text x="2017" y="3450">itk::GaussianDistanceKernel<tspan x="2017" dy="14.9">&lt; TRealValueType &gt;</tspan></text></g>
<g id="gkt" class="n"><rect x="1923" y="3499" width="188" height="40"/><text x="2017" y="3515">itk::GaussianKernelFunction<tspan x="2017" dy="14.9">&lt; TRealValueType &gt;</tspan></text></g>
<g id="bsdk" class="n"><rect x="1919" y="3564" width="194" height="40"/><text x="2016" y="3580">itk::BSplineDerivativeKernel<tspan x="2016" dy="14.9">Function&lt; TRealValueType &gt;</tspan></text></g>
<g id="bsk" class="n"><rect x="1929" y="3630" width="176" height="39"/><text x="2017" y="3646">itk::BSplineKernelFunction<tspan x="2017" dy="14.9">&lt; TRealValueType &gt;</tspan></text></g>
<g id="cox" class="n"><rect x="1919" y="3695" width="195" height="39"/><text x="2016.5" y="3711">itk::CoxDeBoorBSplineKernel<tspan x="2016.5" dy="14.9">Function&lt; TRealValueType &gt;</tspan></text></g>
<g id="psft" class="n"><rect x="1941" y="3760" width="151" height="55"/><text x="2016.5" y="3776">itk::PointSetFunction<tspan x="2016.5" dy="14.9">&lt; TPointSet, TOutput,</tspan><tspan x="2016.5" dy="14.9">TCoordRep &gt;</tspan></text></g>
<g id="pca" class="n"><rect x="2332" y="6" width="278" height="40"/><text x="2471" y="22">itk::PCAShapeSignedDistance<tspan x="2471" dy="14.9">Function&lt; TCoordRep, VSpaceDimension &gt;</tspan></text></g>
<g id="ssdf" class="n"><rect x="2332" y="71" width="278" height="39"/><text x="2471" y="87">itk::SphereSignedDistance<tspan x="2471" dy="14.9">Function&lt; TCoordRep, VSpaceDimension &gt;</tspan></text></g>
<g id="fcs" class="n"><rect x="2365" y="136" width="212" height="40"/><text x="2471" y="152">itk::FiniteCylinderSpatial<tspan x="2471" dy="14.9">Function&lt; VDimension, TInput &gt;</tspan></text></g>
<g id="frs" class="n"><rect x="2379" y="201" width="183" height="40"/><text x="2470.5" y="217">itk::FrustumSpatialFunction<tspan x="2470.5" dy="14.9">&lt; VDimension, TInput &gt;</tspan></text></g>
<g id="sei" class="n"><rect x="2349" y="267" width="244" height="54"/><text x="2471" y="283">itk::SymmetricEllipsoidInterior<tspan x="2471" dy="14.9">ExteriorSpatialFunction&lt; VDimension,</tspan><tspan x="2471" dy="14.9">TInput &gt;</tspan></text></g>
<g id="tie" class="n"><rect x="2372" y="347" width="199" height="53"/><text x="2471.5" y="363">itk::TorusInteriorExterior<tspan x="2471.5" dy="14.9">SpatialFunction&lt; VDimension,</tspan><tspan x="2471.5" dy="14.9">TInput &gt;</tspan></text></g>
<g id="csie" class="n"><rect x="2372" y="426" width="199" height="55"/><text x="2471.5" y="442">itk::ConicShellInteriorExterior<tspan x="2471.5" dy="14.9">SpatialFunction&lt; VDimension,</tspan><tspan x="2471.5" dy="14.9">TInput &gt;</tspan></text></g>
<g id="eie" class="n"><rect x="2372" y="506" width="199" height="54"/><text x="2471.5" y="522">itk::EllipsoidInteriorExterior<tspan x="2471.5" dy="14.9">SpatialFunction&lt; VDimension,</tspan><tspan x="2471.5" dy="14.9">TInput &gt;</tspan></text></g>
<g id="iesi" class="n"><rect x="2373" y="586" width="195" height="54"/><text x="2470.5" y="602">itk::InteriorExteriorSpatial<tspan x="2470.5" dy="14.9">Function&lt; VImageDimension,</tspan><tspan x="2470.5" dy="14.9">TInput &gt;</tspan></text></g>
<g id="lsig" class="n"><rect x="2376" y="669" width="189" height="40"/><text x="2470.5" y="685">itk::Statistics::LogSigmoid<tspan x="2470.5" dy="14.9">TransferFunction&lt; TScalar &gt;</tspan></text></g>
<g id="sig" class="n"><rect x="2376" y="734" width="189" height="39"/><text x="2470.5" y="750">itk::Statistics::Sigmoid<tspan x="2470.5" dy="14.9">TransferFunction&lt; TScalar &gt;</tspan></text></g>
<g id="cdi" class="n"><rect x="2353" y="1152" width="235" height="55"/><text x="2470.5" y="1168">itk::CentralDifferenceImage<tspan x="2470.5" dy="14.9">Function&lt; TInputImage, TCoordRep,</tspan><tspan x="2470.5" dy="14.9">TOutputType &gt;</tspan></text></g>
<g id="dhg" class="n"><rect x="2372" y="1233" width="197" height="55"/><text x="2470.5" y="1249">itk::DiscreteHessianGaussian<tspan x="2470.5" dy="14.9">ImageFunction&lt; TInputImage,</tspan><tspan x="2470.5" dy="14.9">TOutput &gt;</tspan></text></g>
<g id="vcd" class="n"><rect x="2372" y="1313" width="197" height="54"/><text x="2470.5" y="1329">itk::VectorCentralDifference<tspan x="2470.5" dy="14.9">ImageFunction&lt; TInputImage,</tspan><tspan x="2470.5" dy="14.9">TCoordRep &gt;</tspan></text></g>
<g id="gbl" class="n"><rect x="2367" y="1392" width="208" height="40"/><text x="2471" y="1408">itk::GaussianBlurImageFunction<tspan x="2471" dy="14.9">&lt; TInputImage, TOutput &gt;</tspan></text></g>
<g id="nop" class="n"><rect x="2372" y="1457" width="197" height="55"/><text x="2470.5" y="1473">itk::NeighborhoodOperator<tspan x="2470.5" dy="14.9">ImageFunction&lt; TInputImage,</tspan><tspan x="2470.5" dy="14.9">TOutput &gt;</tspan></text></g>
<g id="smx" class="n"><rect x="2367" y="1536" width="208" height="40"/><text x="2471" y="1552">itk::ScatterMatrixImageFunction<tspan x="2471" dy="14.9">&lt; TInputImage, TCoordRep &gt;</tspan></text></g>
<g id="cov" class="n"><rect x="2373" y="1601" width="195" height="40"/><text x="2470.5" y="1617">itk::CovarianceImageFunction<tspan x="2470.5" dy="14.9">&lt; TInputImage, TCoordRep &gt;</tspan></text></g>
<g id="var" class="n"><rect x="2373" y="1667" width="195" height="40"/><text x="2470.5" y="1683">itk::VarianceImageFunction<tspan x="2470.5" dy="14.9">&lt; TInputImage, TCoordRep &gt;</tspan></text></g>
<g id="vip" class="n r"><rect x="2349" y="1732" width="244" height="40"/><text x="2471" y="1748">itk::VectorInterpolateImage<tspan x="2471" dy="14.9">Function&lt; TInputImage, TCoordRep &gt;</tspan></text></g>
<g id="vmn" class="n"><rect x="2371" y="1797" width="200" height="41"/><text x="2471" y="1813">itk::VectorMeanImageFunction<tspan x="2471" dy="14.9">&lt; TInputImage, TCoordRep &gt;</tspan></text></g>
<g id="ext" class="n"><rect x="2373" y="1862" width="195" height="40"/><text x="2470.5" y="1878">itk::ExtrapolateImageFunction<tspan x="2470.5" dy="14.9">&lt; TInputImage, TCoordRep &gt;</tspan></text></g>
<g id="iif" class="n r"><rect x="2373" y="1928" width="195" height="40"/><text x="2470.5" y="1944">itk::InterpolateImageFunction<tspan x="2470.5" dy="14.9">&lt; TInputImage, TCoordRep &gt;</tspan></text></g>
<g id="mean" class="n"><rect x="2373" y="1993" width="195" height="40"/><text x="2470.5" y="2009">itk::MeanImageFunction<tspan x="2470.5" dy="14.9">&lt; TInputImage, TCoordRep &gt;</tspan></text></g>
<g id="sos" class="n"><rect x="2362" y="2058" width="218" height="40"/><text x="2471" y="2074">itk::SumOfSquaresImageFunction<tspan x="2471" dy="14.9">&lt; TInputImage, TCoordRep &gt;</tspan></text></g>
<g id="gdi" class="n"><rect x="2359" y="2176" width="224" height="40"/><text x="2471" y="2192">itk::GaussianDerivativeImage<tspan x="2471" dy="14.9">Function&lt; TInputImage, TOutput &gt;</tspan></text></g>
<g id="dgd" class="n"><rect x="2368" y="2240" width="207" height="55"/><text x="2471.5" y="2256">itk::DiscreteGaussianDerivative<tspan x="2471.5" dy="14.9">ImageFunction&lt; TInputImage,</tspan><tspan x="2471.5" dy="14.9">TOutput &gt;</tspan></text></g>
<g id="dgm" class="n"><rect x="2345" y="2320" width="252" height="56"/><text x="2471" y="2336">itk::DiscreteGradientMagnitude<tspan x="2471" dy="14.9">GaussianImageFunction&lt; TInputImage,</tspan><tspan x="2471" dy="14.9">TOutput &gt;</tspan></text></g>
<g id="bti" class="n r"><rect x="2383" y="2400" width="175" height="55"/><text x="2470.5" y="2416">itk::BinaryThresholdImage<tspan x="2470.5" dy="14.9">Function&lt; TInputImage,</tspan><tspan x="2470.5" dy="14.9">TCoordRep &gt;</tspan></text></g>
<g id="mdt" class="n"><rect x="2373" y="2482" width="195" height="54"/><text x="2470.5" y="2498">itk::MahalanobisDistance<tspan x="2470.5" dy="14.9">ThresholdImageFunction</tspan><tspan x="2470.5" dy="14.9">&lt; TInputImage, TCoordRep &gt;</tspan></text></g>
<g id="bscp" class="n"><rect x="2372" y="2561" width="198" height="55"/><text x="2471" y="2577">itk::BSplineControlPoint<tspan x="2471" dy="14.9">ImageFunction&lt; TInputImage,</tspan><tspan x="2471" dy="14.9">TCoordRep &gt;</tspan></text></g>
<g id="med" class="n"><rect x="2373" y="2640" width="195" height="41"/><text x="2470.5" y="2656">itk::MedianImageFunction<tspan x="2470.5" dy="14.9">&lt; TInputImage, TCoordRep &gt;</tspan></text></g>
<g id="pcd" class="n"><rect x="2372" y="2705" width="198" height="55"/><text x="2471" y="2721">itk::PhysicalCentralDifference<tspan x="2471" dy="14.9">ImageFunction&lt; TInputImage,</tspan><tspan x="2471" dy="14.9">TCoordRep &gt;</tspan></text></g>
<g id="gmf" class="n"><rect x="2350" y="2785" width="242" height="55"/><text x="2471" y="2801">itk::Statistics::Gaussian<tspan x="2471" dy="14.9">MembershipFunction&lt; TMeasurement</tspan><tspan x="2471" dy="14.9">Vector &gt;</tspan></text></g>
<g id="eda" class="n"><rect x="2389" y="2906" width="164" height="55"/><text x="2471" y="2922">itk::Statistics::Euclidean<tspan x="2471" dy="14.9">DistanceMetric&lt; Array&lt;</tspan><tspan x="2471" dy="14.9">double &gt; &gt;</tspan></text></g>
<g id="mse" class="n"><rect x="2350" y="3062" width="241" height="55"/><text x="2470.5" y="3078">itk::Statistics::MeanSquared<tspan x="2470.5" dy="14.9">ErrorFunction&lt; TMeasurementVector,</tspan><tspan x="2470.5" dy="14.9">ScalarType &gt;</tspan></text></g>
<g id="sqd" class="n"><rect x="2349" y="3143" width="245" height="54"/><text x="2471.5" y="3159">itk::Statistics::Squared<tspan x="2471.5" dy="14.9">DifferenceErrorFunction</tspan><tspan x="2471.5" dy="14.9">&lt; TMeasurementVector, ScalarType &gt;</tspan></text></g>
<g id="prod" class="n"><rect x="2350" y="3223" width="242" height="54"/><text x="2471" y="3239">itk::Statistics::Product<tspan x="2471" dy="14.9">InputFunction&lt; TMeasurementVector,</tspan><tspan x="2471" dy="14.9">ScalarType &gt;</tspan></text></g>
<g id="sumi" class="n"><rect x="2364" y="3303" width="214" height="54"/><text x="2471" y="3319">itk::Statistics::SumInput<tspan x="2471" dy="14.9">Function&lt; TMeasurementVector,</tspan><tspan x="2471" dy="14.9">ScalarType &gt;</tspan></text></g>
<g id="kf" class="n"><rect x="2405" y="3383" width="131" height="26"/><text x="2470.5" y="3400">itk::KernelFunction</text></g>
<g id="gkd" class="n"><rect x="2378" y="3458" width="187" height="40"/><text x="2471.5" y="3474">itk::GaussianKernelFunction<tspan x="2471.5" dy="14.9">&lt; double &gt;</tspan></text></g>
<g id="mpw" class="n"><rect x="2373" y="3760" width="196" height="55"/><text x="2471" y="3776">itk::ManifoldParzenWindows<tspan x="2471" dy="14.9">PointSetFunction&lt; TPointSet,</tspan><tspan x="2471" dy="14.9">TOutput, TCoordRep &gt;</tspan></text></g>
<g id="sph" class="n"><rect x="2858" y="594" width="199" height="39"/><text x="2957.5" y="610">itk::SphereSpatialFunction<tspan x="2957.5" dy="14.9">&lt; VImageDimension, TInput &gt;</tspan></text></g>
<g id="nne" class="n"><rect x="2853" y="1601" width="208" height="54"/><text x="2957" y="1617">itk::NearestNeighborExtrapolate<tspan x="2957" dy="14.9">ImageFunction&lt; TInputImage,</tspan><tspan x="2957" dy="14.9">TCoordRep &gt;</tspan></text></g>
<g id="nni" class="n"><rect x="2856" y="1681" width="202" height="55"/><text x="2957" y="1697">itk::NearestNeighborInterpolate<tspan x="2957" dy="14.9">ImageFunction&lt; TInputImage,</tspan><tspan x="2957" dy="14.9">TCoordRep &gt;</tspan></text></g>
<g id="rci" class="n"><rect x="2836" y="1760" width="243" height="39"/><text x="2957.5" y="1776">itk::RayCastInterpolateImage<tspan x="2957.5" dy="14.9">Function&lt; TInputImage, TCoordRep &gt;</tspan></text></g>
<g id="sjr" class="n"><rect x="2860" y="1825" width="194" height="55"/><text x="2957" y="1841">itk::SiddonJacobsRayCast<tspan x="2957" dy="14.9">InterpolateImageFunction</tspan><tspan x="2957" dy="14.9">&lt; TInputImage, TCoordRep &gt;</tspan></text></g>
<g id="gip" class="n r"><rect x="2858" y="1905" width="198" height="54"/><text x="2957" y="1921">itk::GaussianInterpolate<tspan x="2957" dy="14.9">ImageFunction&lt; TInputImage,</tspan><tspan x="2957" dy="14.9">TCoordRep &gt;</tspan></text></g>
<g id="lgi" class="n"><rect x="2848" y="1985" width="218" height="54"/><text x="2957" y="2001">itk::LabelImageGenericInterpolate<tspan x="2957" dy="14.9">ImageFunction&lt; TInputImage,</tspan><tspan x="2957" dy="14.9">TCoordRep &gt;</tspan></text></g>
<g id="lin" class="n"><rect x="2836" y="2064" width="243" height="40"/><text x="2957.5" y="2080">itk::LinearInterpolateImage<tspan x="2957.5" dy="14.9">Function&lt; TInputImage, TCoordRep &gt;</tspan></text></g>
<g id="iift" class="n r"><rect x="2859" y="2129" width="196" height="40"/><text x="2957" y="2145">itk::InterpolateImageFunction<tspan x="2957" dy="14.9">&lt; TImageType, TCoordRep &gt;</tspan></text></g>
</svg>
